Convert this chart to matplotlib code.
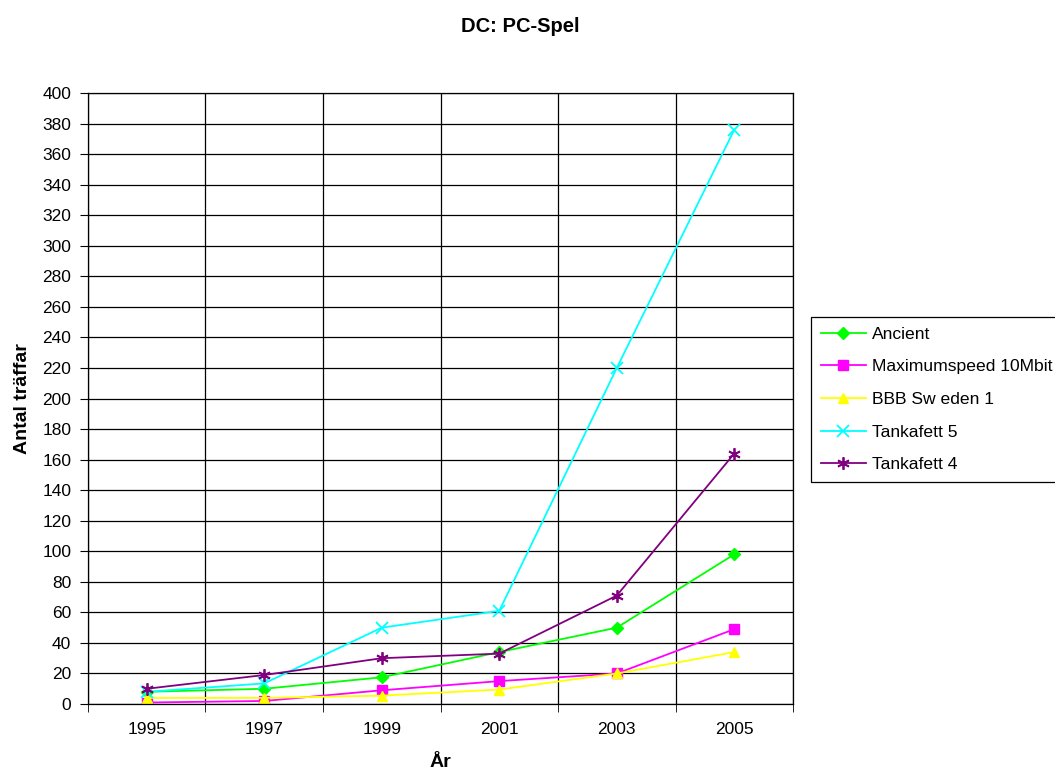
import matplotlib
matplotlib.use("Agg")
import matplotlib.pyplot as plt
import numpy as np

plt.rcParams['font.family'] = ['Liberation Sans', 'DejaVu Sans']

years = ["1995", "1997", "1999", "2001", "2003", "2005"]
ancient = [8, 10, 17.5, 34, 50, 98]
maxspeed = [1, 2, 9, 15, 20, 49]
bbb = [4, 4, 5.5, 9.5, 20, 34]
tank5 = [8, 13.5, 50, 61, 220, 376]
tank4 = [10, 19, 30, 33, 71, 164]

fig = plt.figure(figsize=(10.55, 7.74), dpi=100)
ax = fig.add_axes([0.0834, 0.0904, 0.6683, 0.7894])

x = np.arange(len(years))
ax.plot(x, ancient, color='#00FF00', marker='D', ms=6, lw=1.3, label='Ancient')
ax.plot(x, maxspeed, color='#FF00FF', marker='s', ms=6.5, lw=1.3, label='Maximumspeed 10Mbit')
ax.plot(x, bbb, color='#FFFF00', marker='^', ms=7.5, lw=1.3, label='BBB Sw eden 1')
ax.plot(x, tank5, color='#00FFFF', marker='x', ms=8, mew=1.3, lw=1.3, label='Tankafett 5')
ax.plot(x, tank4, color='#800080', marker=(6, 2, 0), ms=9, mew=1.3, lw=1.3, label='Tankafett 4')

ax.set_xlim(-0.5, len(years) - 0.5)
ax.set_ylim(0, 400)
ax.set_yticks(np.arange(0, 401, 20))
ax.set_xticks(x)
ax.set_xticklabels(years)
ax.set_xticks(np.arange(-0.5, len(years), 1), minor=True)
ax.tick_params(axis='x', which='major', length=0, labelsize=12.5, pad=13)
ax.tick_params(axis='x', which='minor', length=6, direction='out', color='black')
ax.tick_params(axis='y', length=6, direction='out', labelsize=12.5, pad=6)
ax.grid(True, axis='y', which='major', color='black', lw=0.9)
ax.grid(True, axis='x', which='minor', color='black', lw=0.9)
ax.set_axisbelow(True)
for s in ax.spines.values():
    s.set_color('black')
    s.set_linewidth(0.9)

ax.set_ylabel('Antal träffar', fontsize=14, fontweight='bold', labelpad=8)
ax.set_xlabel('År', fontsize=14, fontweight='bold', labelpad=12)
fig.text(0.493, 0.966, 'DC: PC-Spel', ha='center', va='center', fontsize=14.5, fontweight='bold')

leg = fig.legend(loc='upper left', bbox_to_anchor=(0.7687, 0.5904), fontsize=12.6,
                 frameon=True, fancybox=False, edgecolor='black', framealpha=1,
                 handlelength=2.6, borderpad=0.55, labelspacing=0.99, handletextpad=0.35,
                 borderaxespad=0)
leg.get_frame().set_linewidth(0.9)

fig.savefig('out.png', dpi=100)
